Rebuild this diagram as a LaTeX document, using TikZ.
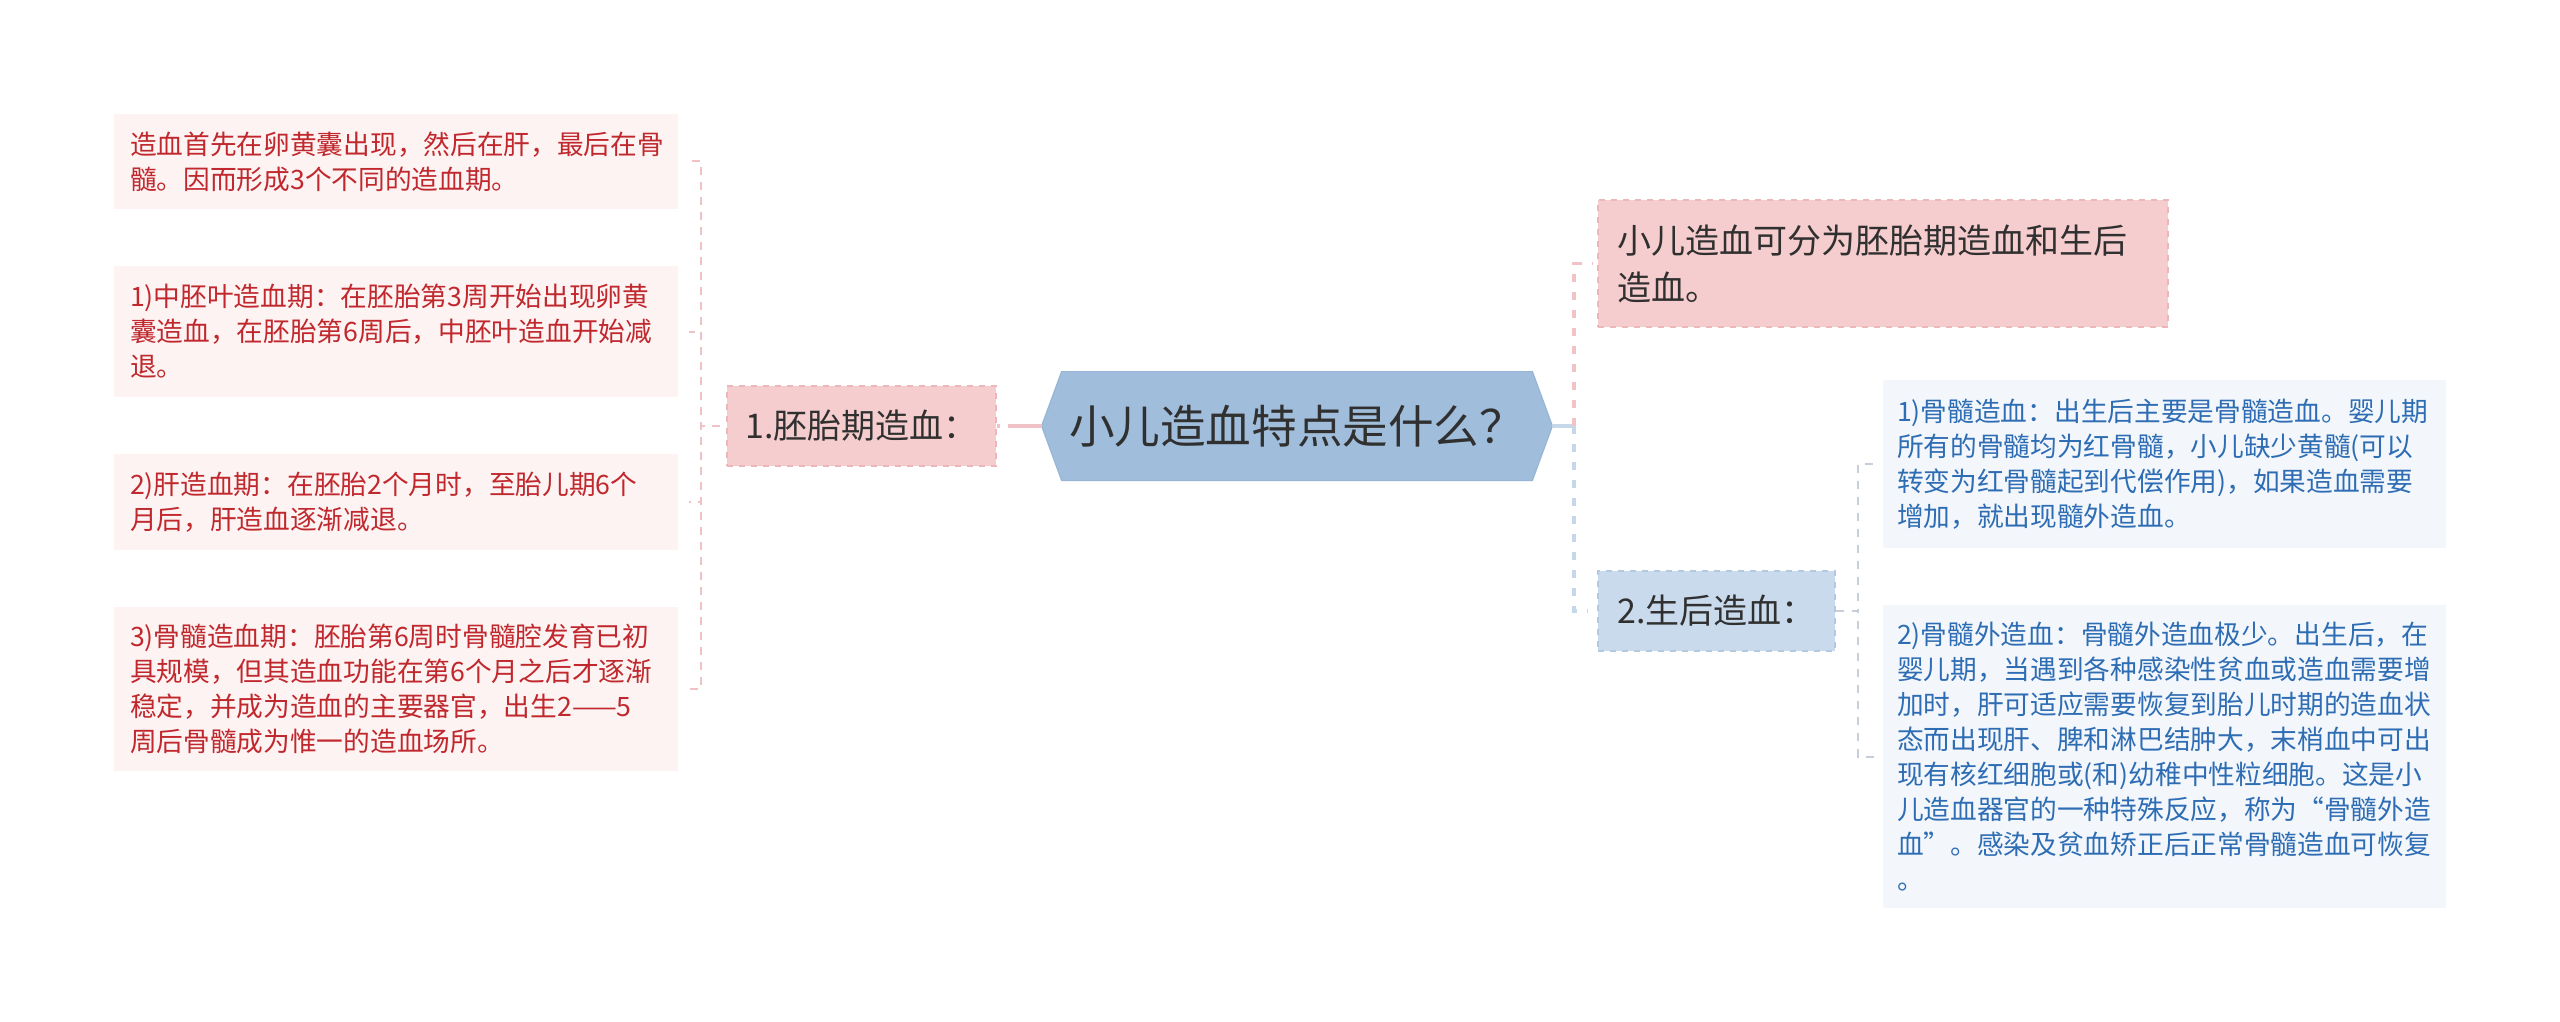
\documentclass[tikz,border=0pt]{standalone}
\usepackage{fontspec}
\setmainfont{Noto Sans CJK SC}
\usetikzlibrary{calc,backgrounds}
\definecolor{pinkfill}{HTML}{F6CDCE}
\definecolor{pinkedge}{HTML}{EDB7BA}
\definecolor{lpfill}{HTML}{FDF3F3}
\definecolor{redtext}{HTML}{C0282D}
\definecolor{hexfill}{HTML}{A0BEDC}
\definecolor{hexedge}{HTML}{97B6D6}
\definecolor{bluefill}{HTML}{C8DAEC}
\definecolor{blueedge}{HTML}{B3C9E0}
\definecolor{lbfill}{HTML}{F3F7FC}
\definecolor{bluetext}{HTML}{2E6DB4}
\definecolor{darktext}{HTML}{303030}
\definecolor{lconncol}{HTML}{F0C2C5}
\definecolor{rpinkcol}{HTML}{F2C3C6}
\definecolor{rbluecol}{HTML}{C6D7E9}
\definecolor{sconncol}{HTML}{C5CED9}
\begin{document}
\begin{tikzpicture}[x=0.5pt,y=-0.5pt,
  leafL/.style={fill=lpfill, text=redtext, font=\fontsize{13.35pt}{17.5pt}\selectfont,
    align=left, text width=266pt, inner xsep=8pt, inner ysep=0pt, minimum width=282pt},
  leafR/.style={fill=lbfill, text=bluetext, font=\fontsize{13.35pt}{17.5pt}\selectfont,
    align=left, text width=267.5pt, inner xsep=7pt, inner ysep=0pt, minimum width=281.5pt},
  pinkbox/.style={fill=pinkfill, draw=pinkedge, dashed, line width=0.8pt, text=darktext,
    font=\fontsize{17pt}{23.5pt}\selectfont, inner ysep=0pt},
  bluebox/.style={fill=bluefill, draw=blueedge, dashed, line width=0.8pt, text=darktext,
    font=\fontsize{17pt}{23.5pt}\selectfont, inner ysep=0pt},
  hexnode/.style={text=darktext, font=\fontsize{22.8pt}{27pt}\selectfont,
    minimum width=235pt, minimum height=54pt, inner sep=0pt},
  lconn/.style={draw=lconncol, line width=1pt, dash pattern=on 4pt off 3.5pt},
  rpink/.style={draw=rpinkcol, line width=1.6pt, dash pattern=on 4pt off 5pt},
  rblue/.style={draw=rbluecol, line width=1.6pt, dash pattern=on 4pt off 5pt},
  sconn/.style={draw=sconncol, line width=1pt, dash pattern=on 4pt off 4pt},
]
\useasboundingbox (0,0) rectangle (2560,1022);
\begin{scope}[on background layer]
  \fill[white] (0,0) rectangle (2560,1022);
\end{scope}

% left leaves
\node[leafL, minimum height=47.5pt] (l1) at (396,161.5)
  {造血首先在卵黄囊出现，然后在肝，最后在骨\\髓。因而形成3个不同的造血期。};
\node[leafL, minimum height=65.5pt] (l2) at (396,331.5)
  {1)中胚叶造血期：在胚胎第3周开始出现卵黄\\囊造血，在胚胎第6周后，中胚叶造血开始减\\退。};
\node[leafL, minimum height=48pt] (l3) at (396,502)
  {2)肝造血期：在胚胎2个月时，至胎儿期6个\\月后，肝造血逐渐减退。};
\node[leafL, minimum height=82pt] (l4) at (396,689)
  {3)骨髓造血期：胚胎第6周时骨髓腔发育已初\\具规模，但其造血功能在第6个月之后才逐渐\\稳定，并成为造血的主要器官，出生2——5\\周后骨髓成为惟一的造血场所。};

% first-level nodes
\node[pinkbox, minimum width=134.5pt, minimum height=40pt] (n1) at (861.5,426) {1.胚胎期造血：};
\node[hexnode] (hex) at (1297,426) {小儿造血特点是什么？};
\coordinate (hexL) at ([xshift=-10pt]hex.west);
\coordinate (hexR) at ([xshift=10pt]hex.east);
\begin{scope}[on background layer]
  \filldraw[fill=hexfill, draw=hexedge, line width=0.6pt]
    (hex.north west) -- (hex.north east) -- (hexR) -- (hex.south east)
    -- (hex.south west) -- (hexL) -- cycle;
\end{scope}

\node[pinkbox, align=left, text width=266pt, inner xsep=9.5pt, minimum height=63.5pt] (r1) at (1883,263.5)
  {小儿造血可分为胚胎期造血和生后\\造血。};
\node[bluebox, minimum width=118.5pt, minimum height=40pt] (n2) at (1716.5,611) {2.生后造血：};

% right leaves
\node[leafR, minimum height=84pt] (rl1) at (2164.5,464)
  {1)骨髓造血：出生后主要是骨髓造血。婴儿期\\所有的骨髓均为红骨髓，小儿缺少黄髓(可以\\转变为红骨髓起到代偿作用)，如果造血需要\\增加，就出现髓外造血。};
\node[leafR, minimum height=151.5pt] (rl2) at (2164.5,756.5)
  {2)骨髓外造血：骨髓外造血极少。出生后，在\\婴儿期，当遇到各种感染性贫血或造血需要增\\加时，肝可适应需要恢复到胎儿时期的造血状\\态而出现肝、脾和淋巴结肿大，末梢血中可出\\现有核红细胞或(和)幼稚中性粒细胞。这是小\\儿造血器官的一种特殊反应，称为“骨髓外造\\血”。感染及贫血矫正后正常骨髓造血可恢复\\。};

% junctions
\coordinate (jl) at (701,426);
\coordinate (jr) at (1574,426);
\coordinate (jr2) at (1858,611);

% connectors
\draw[draw=lconncol, line width=2pt, dash pattern=on 17pt off 4pt] (hexL) -- (n1.east);
\foreach \c in {l1,l2,l3,l4}
  \draw[lconn] ([xshift=-3pt]n1.west) -- (jl) |- ([xshift=5.5pt]\c.east);
\draw[draw=rbluecol, line width=1.6pt] (hexR) -- (jr);
\draw[rpink] (jr) |- ([xshift=-2.5pt]r1.west);
\draw[rblue] (jr) |- ([xshift=-4.5pt]n2.west);
\foreach \c in {rl1,rl2}
  \draw[sconn] (n2.east) -- (jr2) |- ([xshift=-4pt]\c.west);
\end{tikzpicture}
\end{document}
